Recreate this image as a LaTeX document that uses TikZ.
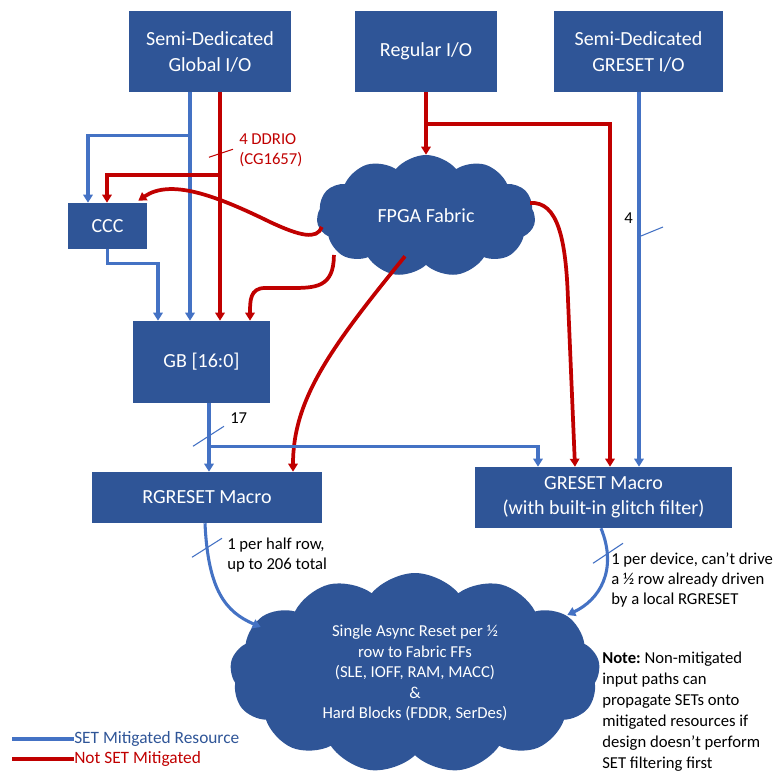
\documentclass[tikz,border=0pt]{standalone}
\usepackage{fontspec}
\setmainfont{Carlito}
\usepackage{tikz}
\usetikzlibrary{arrows.meta,shapes.symbols,calc}
\definecolor{boxblue}{RGB}{47,85,151}
\definecolor{setblue}{RGB}{68,114,196}
\definecolor{setred}{RGB}{192,0,0}
\tikzstyle{block}=[rectangle, fill=boxblue, text=white, align=center, inner sep=0pt, font=\fontsize{15}{19.5}\selectfont]
\tikzstyle{puff}=[cloud, cloud ignores aspect, cloud puff arc=100, fill=boxblue, text=white, align=center, inner sep=0pt]

\begin{document}
\begin{tikzpicture}[x=0.75pt,y=-0.75pt,
  mit/.style={draw=setblue, line width=2.3pt},
  nomit/.style={draw=setred, line width=2.8pt},
  tip/.style={-{Triangle[length=6pt,width=7pt]}},
  tick/.style={line width=0.8pt},
  lbl/.style={font=\fontsize{12.5}{15}\selectfont, align=left, anchor=west, inner sep=0pt}]
	\useasboundingbox (0,0) rectangle (781,773);
	\node[block, minimum width=121.5pt, minimum height=60.75pt] (gio) at (210,51.5) {Semi-Dedicated\\Global I/O};
	\node[block, minimum width=106.5pt, minimum height=60.75pt] (rio) at (426,51.5) {Regular I/O};
	\node[block, minimum width=126.75pt, minimum height=60.75pt] (grio) at (638.5,51.5) {Semi-Dedicated\\GRESET I/O};
	\node[block, minimum width=59.25pt, minimum height=34.5pt] (ccc) at (107.5,226) {CCC};
	\node[block, minimum width=102.75pt, minimum height=61.5pt] (gb) at (201.5,362) {GB [16:0]};
	\node[block, minimum width=172.5pt, minimum height=38.25pt] (rgr) at (207,497.5) {RGRESET Macro};
	\node[block, minimum width=192.75pt, minimum height=45.75pt, font=\fontsize{15}{18.75}\selectfont] (gmac) at (603.5,497.5) {GRESET Macro\\(with built-in glitch filter)};
	\node[puff, cloud puffs=11, minimum width=164pt, minimum height=91.5pt, font=\fontsize{15}{18}\selectfont] (fab) at (426,216) {FPGA Fabric};
	\node[puff, cloud puffs=13, minimum width=277.5pt, minimum height=150pt, font=\fontsize{12.5}{15.4}\selectfont] (rst) at (415,673) {Single Async Reset per ½\\row to Fabric FFs\\(SLE, IOFF, RAM, MACC)\\\&\\Hard Blocks (FDDR, SerDes)};

	\draw[mit,tip] ($(gio.south)+(-20,0)$) -- ($(gb.north)+(-11.5,0)$);
	\draw[mit,tip] ($(gio.south)+(-20,43)$) -| ($(ccc.north)+(-19.5,0)$);
	\draw[nomit,tip] ($(gio.south)+(10,0)$) -- ($(gb.north)+(18.5,0)$);
	\draw[nomit,tip] ($(gio.south)+(10,83)$) -| ($(ccc.north)+(-0.5,0)$);
	\draw[setred,tick] ($(gio.south)+(-1,65)$) -- ++(24,-8);
	\node[lbl, text=setred] (ddr) at (239,150) {4 DDRIO\\(CG1657)};

	\draw[mit,tip] (ccc.south) -- ++(0,14) -| ($(gb.north)+(-43.5,0)$);
	\draw[nomit,tip] ($(fab.west)+(5,11)$) .. controls +(-5,13) and +(30,14) .. (270,222) .. controls +(-55,-27) and +(32,-22) .. ($(ccc.north east)+(-9,-2)$);
	\draw[nomit,tip] ($(fab.west)+(17,39)$) .. controls +(0,33) and +(25,0) .. (290,288) -- (265,288) .. controls +(-15,0) and +(0,-20) .. ($(gb.north)+(48.5,0)$);

	\draw[nomit,tip] (rio.south) -- (fab.north);
	\draw[nomit,tip] ($(rio.south)+(-1,32)$) -| ($(gmac.north)+(6.5,0)$);
	\draw[nomit,tip] ($(fab.east)+(-5,-13)$) .. controls +(28,-2) and +(-2,-60) .. (568,300) -- ($(gmac.north)+(-28.5,0)$);
	\draw[nomit,tip] ($(fab.south)+(-21,-9)$) .. controls +(-75,92) and +(0,-72) .. ($(rgr.north)+(86,0)$);

	\draw[mit,tip] ($(grio.south)+(0.5,0)$) -- ($(gmac.north)+(35.5,0)$);
	\draw[setblue,tick] (641,236) -- ++(22,-9);
	\node[lbl, anchor=east] (four) at (633,218) {4};

	\draw[mit,tip] ($(gb.south)+(7.5,0)$) -- ($(rgr.north)+(2,0)$);
	\draw[mit,tip] ($(gb.south)+(7.5,43)$) -| ($(gmac.north)+(-65.5,0)$);
	\draw[setblue,tick] ($(gb.south)+(-8.5,43)$) -- ++(31,-20);
	\node[lbl] (bus) at (230,418) {17};

	\draw[mit,tip] ($(rgr.south)+(-2,0)$) .. controls +(3,67) and +(-35,-15) .. ($(rst.west)+(30,-46)$);
	\draw[setblue,tick] ($(rgr.south)+(-15,34)$) -- ++(30,-19);
	\node[lbl] (rgrnote) at (227,555) {1 per half row,\\up to 206 total};

	\draw[mit,tip] ($(gmac.south)+(-2.5,0)$) .. controls +(17,42) and +(32,-15) .. ($(rst.east)+(-32,-58)$);
	\draw[setblue,tick] ($(gmac.south)+(-10.5,35)$) -- ++(30,-20);
	\node[lbl] (gnote) at (611,580) {1 per device, can’t drive\\a ½ row already driven\\by a local RGRESET};

	\node[lbl, font=\fontsize{12.5}{15.75}\selectfont] (note) at (602,712) {\textbf{Note:}~Non-mitigated\\input paths can\\propagate SETs onto\\mitigated resources if\\design doesn’t perform\\SET filtering first};

	\node[lbl, text=boxblue, font=\fontsize{13}{15}\selectfont] (lgb) at (74,739) {SET Mitigated Resource};
	\node[lbl, text=setred, font=\fontsize{13}{15}\selectfont] (lgr) at (74,759) {Not SET Mitigated};
	\draw[setblue, line width=3.5pt] (lgb.west) -- ++(-62,0);
	\draw[setred, line width=3.5pt] (lgr.west) -- ++(-62,0);
\end{tikzpicture}
\end{document}
